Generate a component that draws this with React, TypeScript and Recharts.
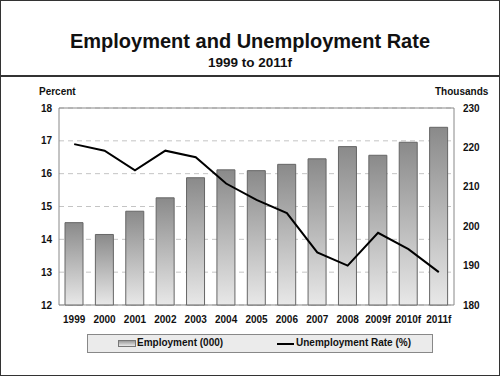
import {
	Bar,
	CartesianGrid,
	ComposedChart,
	Line,
	ReferenceArea,
	XAxis,
	YAxis
} from 'recharts'

const years = ['1999', '2000', '2001', '2002', '2003', '2004', '2005', '2006', '2007', '2008', '2009f', '2010f', '2011f']
const employment = [200.9, 197.9, 203.8, 207.2, 212.3, 214.3, 214.1, 215.7, 217.1, 220.2, 218.0, 221.3, 225.1]
const unemploymentRate = [16.9, 16.7, 16.1, 16.7, 16.5, 15.7, 15.2, 14.8, 13.6, 13.2, 14.2, 13.7, 13.0]
const percentTicks = [12, 13, 14, 15, 16, 17, 18]
const thousandsTicks = [180, 190, 200, 210, 220, 230]

const data = years.map((year, i) => ({
	year,
	employment: employment[i],
	rate: unemploymentRate[i]
}))

const font = '"Liberation Sans", Arial, sans-serif'
const tickStyle = { fontSize: 10, fontWeight: 700, fill: '#111', fontFamily: font }

export default function App() {
	return (
		<div
			style={{
				position: 'absolute',
				top: 0,
				left: 0,
				width: 500,
				height: 376,
				boxSizing: 'border-box',
				border: '1px solid #333',
				background: '#fff',
				fontFamily: font,
				color: '#111'
			}}
		>
			<div style={{ position: 'absolute', top: 28, left: 0, width: 498, textAlign: 'center', fontSize: 20, fontWeight: 700, lineHeight: '24px' }}>
				Employment and Unemployment Rate
			</div>
			<div style={{ position: 'absolute', top: 53, left: 0, width: 498, textAlign: 'center', fontSize: 13.5, fontWeight: 700, lineHeight: '17px' }}>
				1999 to 2011f
			</div>
			<div style={{ position: 'absolute', top: 74, left: 0, width: 498, height: 0, borderTop: '2px solid #333' }} />
			<div style={{ position: 'absolute', top: 85, left: 38, fontSize: 10, fontWeight: 700 }}>Percent</div>
			<div style={{ position: 'absolute', top: 85, left: 434, fontSize: 10, fontWeight: 700 }}>Thousands</div>

			<div style={{ position: 'absolute', top: -1, left: -1 }}>
				<ComposedChart
					width={500}
					height={376}
					data={data}
					margin={{ top: 108, left: 39, right: 16, bottom: 51 }}
				>
					<defs>
						<linearGradient id="barGradient" x1="0" y1="0" x2="0" y2="1">
							<stop offset="0%" stopColor="#8a8a8a" />
							<stop offset="100%" stopColor="#e8e8e8" />
						</linearGradient>
					</defs>
					<CartesianGrid
						yAxisId="left"
						vertical={false}
						stroke="#c4c4c4"
						strokeDasharray="5 4"
					/>
					<XAxis
						dataKey="year"
						axisLine={false}
						tickLine={false}
						tickSize={0}
						tickMargin={11}
						height={20}
						interval={0}
						tick={tickStyle}
					/>
					<YAxis
						yAxisId="left"
						domain={[12, 18]}
						ticks={percentTicks}
						axisLine={false}
						tickLine={false}
						tickSize={0}
						tickMargin={7}
						width={20}
						tick={tickStyle}
					/>
					<YAxis
						yAxisId="right"
						orientation="right"
						domain={[180, 230]}
						ticks={thousandsTicks}
						axisLine={false}
						tickLine={false}
						tickSize={0}
						tickMargin={9}
						width={30}
						tick={tickStyle}
					/>
					<Bar
						yAxisId="right"
						dataKey="employment"
						barSize={18}
						fill="url(#barGradient)"
						stroke="#666"
						strokeWidth={1}
						isAnimationActive={false}
					/>
					<Line
						yAxisId="left"
						dataKey="rate"
						type="linear"
						stroke="#000"
						strokeWidth={2}
						dot={false}
						isAnimationActive={false}
					/>
					<ReferenceArea
						yAxisId="left"
						y1={12}
						y2={18}
						fill="none"
						stroke="#888"
						strokeWidth={1}
					/>
				</ComposedChart>
			</div>

			<div
				style={{
					position: 'absolute',
					top: 333,
					left: 86,
					width: 346,
					height: 19,
					boxSizing: 'border-box',
					border: '1px solid #888',
					background: '#ebebeb',
					fontSize: 10,
					fontWeight: 700
				}}
			>
				<div style={{ position: 'absolute', left: 30, top: 5, width: 16, height: 5, border: '1px solid #777', background: 'linear-gradient(#9a9a9a, #e8e8e8)' }} />
				<div style={{ position: 'absolute', left: 49, top: 2 }}>Employment (000)</div>
				<div style={{ position: 'absolute', left: 189, top: 8, width: 17, height: 2, background: '#000' }} />
				<div style={{ position: 'absolute', left: 208, top: 2 }}>Unemployment Rate (%)</div>
			</div>
		</div>
	)
}
